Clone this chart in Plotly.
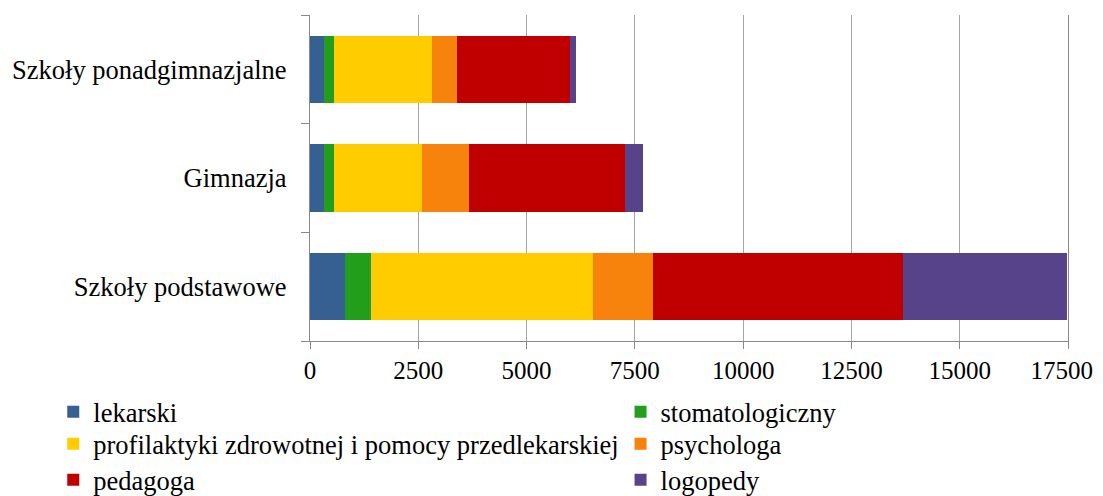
import plotly.graph_objects as go

categories = ["Szkoły podstawowe", "Gimnazja", "Szkoły ponadgimnazjalne"]

series_names = ["lekarski", "stomatologiczny",
                "profilaktyki zdrowotnej i pomocy przedlekarskiej",
                "psychologa", "pedagoga", "logopedy"]

lekarski = [808, 331, 331]
stomatologiczny = [600, 223, 215]
profilaktyki = [5118, 2032, 2270]
psychologa = [1400, 1085, 585]
pedagoga = [5770, 3594, 2602]
logopedy = [3790, 431, 131]

values = [lekarski, stomatologiczny, profilaktyki, psychologa, pedagoga, logopedy]
colors = ["#366092", "#229E1A", "#FFCC00", "#F7820C", "#C00000", "#574389"]

x_ticks = [0, 2500, 5000, 7500, 10000, 12500, 15000, 17500]
x_tick_labels = ["0", "2500", "5000", "7500", "10000", "12500", "15000",
                 "17500\u00a0\u00a0"]

FONT = "Liberation Serif"

# legend grid: two columns, three rows (paper coordinates)
col_x = [-0.3387, 0.4097]
row_y = [-0.1442, -0.2423, -0.3528]
legend_ids = ["legend", "legend2", "legend3", "legend4", "legend5", "legend6"]

fig = go.Figure()
for name, vals, col, lg in zip(series_names, values, colors, legend_ids):
    fig.add_trace(go.Bar(
        y=categories, x=vals, name=name, orientation="h",
        marker=dict(color=col, line=dict(width=0)),
        legend=lg, showlegend=True,
    ))

legend_font = dict(family=FONT, size=26.5, color="black")
legends = {}
for i, lg in enumerate(legend_ids):
    legends[lg] = dict(
        orientation="v", x=col_x[i % 2], xanchor="left",
        y=row_y[i // 2], yanchor="top",
        font=legend_font, bgcolor="rgba(0,0,0,0)",
        itemclick=False, itemdoubleclick=False, visible=True,
    )

fig.update_layout(
    width=1095, height=488,
    showlegend=True,
    barmode="stack", bargap=0.38,
    plot_bgcolor="white", paper_bgcolor="white",
    font=dict(family=FONT, size=26, color="black"),
    margin=dict(l=302, r=35, t=7, b=155, autoexpand=False),
    xaxis=dict(
        range=[0, 17500], tickvals=x_ticks, ticktext=x_tick_labels,
        tickfont=dict(family=FONT, size=25, color="black"),
        ticklabeloverflow="allow",
        showgrid=True, gridcolor="#A6A6A6", gridwidth=1,
        showline=True, linecolor="#888888", linewidth=1.3,
        ticks="outside", ticklen=7, tickcolor="#888888",
        zeroline=False, fixedrange=True,
    ),
    yaxis=dict(
        type="category", categoryorder="array", categoryarray=categories,
        tickfont=dict(family=FONT, size=26.5, color="black"),
        showline=True, linecolor="#888888", linewidth=1.3, mirror=True,
        ticks="outside", ticklen=8, tickcolor="#888888", tickson="boundaries",
        ticklabelstandoff=17,
        showgrid=False, fixedrange=True,
    ),
    **legends,
)

fig.write_html("out.html")
